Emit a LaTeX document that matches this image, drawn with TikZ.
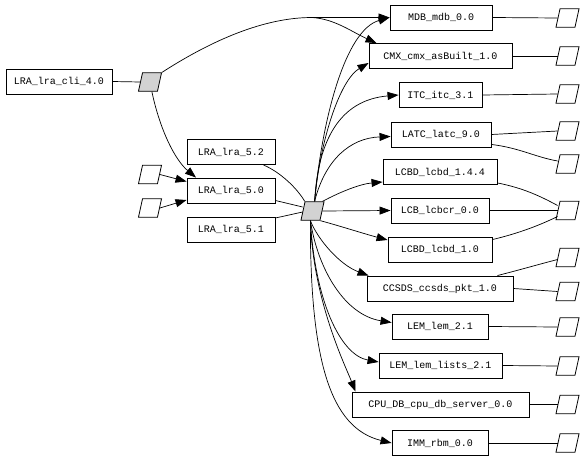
\documentclass[tikz,border=0pt]{standalone}
\usepackage{fontspec}
\setmonofont{Liberation Mono}
\usetikzlibrary{arrows.meta}
\tikzset{
  box/.style={draw, line width=0.9pt, minimum height=25pt, inner sep=2pt,
    font=\ttfamily\fontsize{10}{12}\selectfont},
  para/.style={draw, line width=0.8pt, minimum width=19pt, minimum height=18.5pt,
    inner sep=0pt, xslant=0.22},
  hub/.style={para, fill=gray!35},
  link/.style={line width=0.7pt},
  arr/.style={line width=0.7pt, -{Triangle[length=11pt,width=8pt]}}
}
\begin{document}
\begin{tikzpicture}[x=1pt,y=-1pt]
\useasboundingbox (0,0) rectangle (586,460);
% left side
\node[box, minimum width=106pt] (cli) at (59,81.5) {LRA\_lra\_cli\_4.0};
\node[hub] (hub1) at (150,82) {};
\node[box, minimum width=88pt] (lra52) at (231,152) {LRA\_lra\_5.2};
\node[box, minimum width=88pt] (lra50) at (231,190.5) {LRA\_lra\_5.0};
\node[box, minimum width=88pt] (lra51) at (231,229.5) {LRA\_lra\_5.1};
\node[para] (pa) at (150,174.5) {};
\node[para] (pb) at (150,208) {};
\node[hub] (hub2) at (312.5,211) {};
% right boxes
\node[box, minimum width=102pt] (mdb) at (441,17.5) {MDB\_mdb\_0.0};
\node[box, minimum width=143pt] (cmx) at (440.5,56) {CMX\_cmx\_asBuilt\_1.0};
\node[box, minimum width=83pt] (itc) at (440.5,95) {ITC\_itc\_3.1};
\node[box, minimum width=100pt] (latc) at (441,134.5) {LATC\_latc\_9.0};
\node[box, minimum width=114pt] (lcbd144) at (440,172) {LCBD\_lcbd\_1.4.4};
\node[box, minimum width=98pt] (lcb) at (440,210.5) {LCB\_lcbcr\_0.0};
\node[box, minimum width=104pt] (lcbd10) at (440,249.5) {LCBD\_lcbd\_1.0};
\node[box, minimum width=146pt] (ccsds) at (440,288.5) {CCSDS\_ccsds\_pkt\_1.0};
\node[box, minimum width=96pt] (lem) at (440,326.5) {LEM\_lem\_2.1};
\node[box, minimum width=123pt] (lemlists) at (440.5,365.5) {LEM\_lem\_lists\_2.1};
\node[box, minimum width=177pt] (cpu) at (440.5,404.5) {CPU\_DB\_cpu\_db\_server\_0.0};
\node[box, minimum width=96pt] (imm) at (440,443) {IMM\_rbm\_0.0};
% right parallelograms
\node[para] (p1) at (567.5,18) {};
\node[para] (p2) at (567.5,56) {};
\node[para] (p3) at (567.5,94) {};
\node[para] (p4) at (567.5,131) {};
\node[para] (p5) at (567.5,164) {};
\node[para] (p6) at (567.5,210.5) {};
\node[para] (p7) at (567.5,257.5) {};
\node[para] (p8) at (567.5,291.5) {};
\node[para] (p9) at (567.5,327) {};
\node[para] (p10) at (567.5,366) {};
\node[para] (p11) at (567.5,404.5) {};
\node[para] (p12) at (567.5,443) {};
% left connections
\draw[link] (cli.east) -- (hub1.west);
\coordinate (split) at (312,17.5);
\draw[arr] (hub1.north east) .. controls (220,35) and (270,17.5) .. (split) -- (mdb.west);
\draw[arr] (split) .. controls (335,19) and (352,32) .. ([xshift=8pt]cmx.north west);
\draw[arr] ([xshift=4pt]hub1.south) .. controls (160,130) and (175,160) .. ([xshift=-35pt]lra50.north);
\draw[arr] (pa.east) -- ([yshift=9pt]lra50.west);
\draw[arr] (pb.east) -- ([yshift=-9.5pt]lra50.west);
\draw[link] ([xshift=-12pt]lra52.south east) .. controls (280,172) and (297,188) .. (hub2.north west);
\draw[link] ([yshift=-10pt]lra50.east) -- ([yshift=4pt]hub2.west);
\draw[link] ([yshift=11.5pt]lra51.east) -- ([yshift=-1pt]hub2.west);
% hub2 outgoing
\draw[arr] (hub2.north) .. controls (322,120) and (345,30) .. (mdb.west);
\draw[arr] (hub2.north) .. controls (320,140) and (340,80) .. ([yshift=-7pt]cmx.west);
\draw[arr] (hub2.north) .. controls (318,140) and (340,100) .. (itc.west);
\draw[arr] (hub2.north) .. controls (325,160) and (350,138) .. ([yshift=-2pt]latc.west);
\draw[arr] ([xshift=-2pt]hub2.north east) .. controls (340,192) and (360,184) .. ([yshift=-10pt]lcbd144.west);
\draw[arr] (hub2.east) -- (lcb.west);
\draw[arr] (hub2.south east) .. controls (340,226) and (365,234) .. ([yshift=9.5pt]lcbd10.west);
\draw[arr] (hub2.south) .. controls (318,240) and (340,265) .. ([xshift=2pt]ccsds.north west);
\draw[arr] (hub2.south) .. controls (318,270) and (345,315) .. ([yshift=4pt]lem.west);
\draw[arr] (hub2.south) .. controls (315,300) and (340,355) .. ([yshift=3.5pt]lemlists.west);
\draw[arr] (hub2.south) .. controls (313,300) and (345,365) .. ([xshift=-85pt]cpu.north);
\draw[arr] (hub2.south) .. controls (310,360) and (330,428) .. (imm.west);
% boxes to right parallelograms
\draw[link] (mdb.east) -- (p1.west);
\draw[link] (cmx.east) -- (p2.west);
\draw[link] (itc.east) -- (p3.west);
\draw[link] (latc.east) -- (p4.west);
\draw[link] ([yshift=3pt]latc.south east) .. controls (520,148) and (535,157) .. ([yshift=3pt]p5.west);
\draw[link] ([yshift=2pt]lcbd144.south east) .. controls (523,188) and (540,196) .. ([yshift=5pt]p6.west);
\draw[link] (lcb.east) -- (p6.west);
\draw[link] ([yshift=-3pt]lcbd10.north east) .. controls (520,233) and (540,225) .. ([yshift=-6pt]p6.west);
\draw[link] ([xshift=-16pt]ccsds.north east) .. controls (523,269) and (540,264) .. ([yshift=-2pt]p7.west);
\draw[link] (ccsds.east) -- (p8.west);
\draw[link] (lem.east) -- (p9.west);
\draw[link] (lemlists.east) -- (p10.west);
\draw[link] (cpu.east) -- (p11.west);
\draw[link] (imm.east) -- (p12.west);
\end{tikzpicture}
\end{document}
